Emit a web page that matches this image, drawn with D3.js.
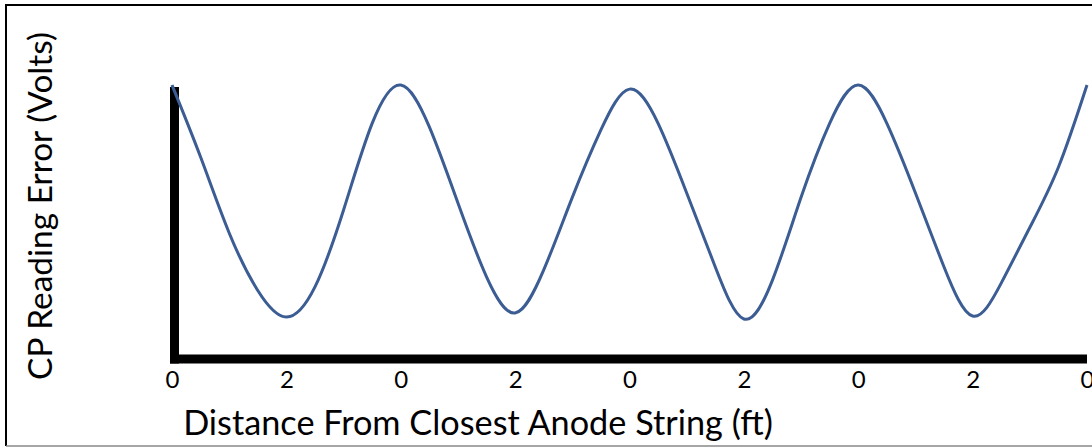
<!DOCTYPE html>
<html>
<head>
<meta charset="utf-8">
<script src="https://cdn.jsdelivr.net/npm/d3@7"></script>
<style>
    html, body { margin: 0; padding: 0; background: #fff; overflow: hidden; }
    svg { display: block; }
    text { font-family: Lato, "Open Sans", sans-serif; fill: #000; }
</style>
</head>
<body>
<div id="cpChart"></div>
<script>
// ——— DATA —————————————————————————————————————————————————————————
// position along the pipe (ft), anodes every 4 ft
const distanceFt = [0, 0.5, 1, 1.5, 2, 2.5, 3, 3.5, 4, 4.5, 5, 5.5, 6, 6.5, 7, 7.5, 8,
    8.5, 9, 9.5, 10, 10.5, 11, 11.5, 12, 12.5, 13, 13.5, 14, 14.5, 15, 15.5, 16];
// relative reading error (no units shown on the chart)
const readingError = [1.00, 0.737, 0.46, 0.25, 0.153, 0.263, 0.544, 0.86, 1.00, 0.847, 0.569, 0.30, 0.168,
    0.325, 0.59, 0.836, 0.985, 0.86, 0.606, 0.336, 0.146, 0.288, 0.59, 0.86, 1.00,
    0.86, 0.606, 0.336, 0.157, 0.277, 0.48, 0.70, 1.00];
const tickValues = [0, 2, 4, 6, 8, 10, 12, 14, 16];
const tickLabels = ["0", "2", "0", "2", "0", "2", "0", "2", "0"];

const width = 1092;
const height = 448;

const svg = d3.select("#cpChart").append("svg")
    .attr("width", width)
    .attr("height", height);

// ——— FRAME ————————————————————————————————————————————————————————
svg.append("line").attr("x1", 6).attr("x2", width).attr("y1", 5).attr("y2", 5)
    .attr("stroke", "#000").attr("stroke-width", 2);
svg.append("line").attr("x1", 6).attr("x2", 6).attr("y1", 4).attr("y2", 446)
    .attr("stroke", "#000").attr("stroke-width", 2);
svg.append("line").attr("x1", 6).attr("x2", width).attr("y1", 446).attr("y2", 446)
    .attr("stroke", "#888").attr("stroke-width", 1.5);

// ——— SCALES ————————————————————————————————————————————————————————
const xScale = d3.scaleLinear().domain([0, 16]).range([172, 1087]);
const yScale = d3.scaleLinear().domain([0, 1]).range([359, 85]);

// ——— AXES ——————————————————————————————————————————————————————————
// thick black bars, no tick marks
svg.append("rect")
    .attr("x", xScale(0) - 2)
    .attr("y", yScale(1) + 2)
    .attr("width", 9)
    .attr("height", yScale(0) - yScale(1) + 2.5)
    .attr("fill", "#000");

const xaxis = d3.axisBottom(xScale)
    .tickValues(tickValues)
    .tickFormat((d, i) => tickLabels[i])
    .tickSize(0)
    .tickPadding(0);

const gx = svg.append("g")
    .attr("transform", "translate(0," + yScale(0) + ")")
    .attr("font-size", 24)
    .attr("font-family", "Lato, 'Open Sans', sans-serif")
    .call(xaxis);
gx.select(".domain").remove();
gx.insert("rect", ":first-child")
    .attr("x", xScale(0) - 2)
    .attr("y", -4.5)
    .attr("width", xScale(16) - xScale(0) + 2)
    .attr("height", 9)
    .attr("fill", "#000");
gx.selectAll(".tick text")
    .attr("y", 29)
    .attr("dy", 0)
    .style("font-size", "24px")
    .attr("fill", "#000");

// ——— LINE —————————————————————————————————————————————————————————
const line = d3.line()
    .x((d) => xScale(d.x))
    .y((d) => yScale(d.y))
    .curve(d3.curveNatural);

const points = distanceFt.map((x, i) => ({ x, y: readingError[i] }));

svg.append("path")
    .datum(points)
    .attr("d", line)
    .attr("fill", "none")
    .attr("stroke", "#3b5d94")
    .attr("stroke-width", 3)
    .attr("stroke-linejoin", "round");

// ——— LABELS ———————————————————————————————————————————————————————
function fitText(sel, target) {
    sel.style("font-size", "30px");
    const w = sel.node().getComputedTextLength();
    sel.style("font-size", (30 * target / w) + "px");
}

const xTitle = svg.append("text")
    .attr("x", 478)
    .attr("y", 435)
    .attr("text-anchor", "middle")
    .text("Distance From Closest Anode String (ft)");
fitText(xTitle, 590);

const yTitle = svg.append("text")
    .attr("transform", "translate(52,206) rotate(-90)")
    .attr("text-anchor", "middle")
    .text("CP Reading Error (Volts)");
fitText(yTitle, 348);
</script>
</body>
</html>
